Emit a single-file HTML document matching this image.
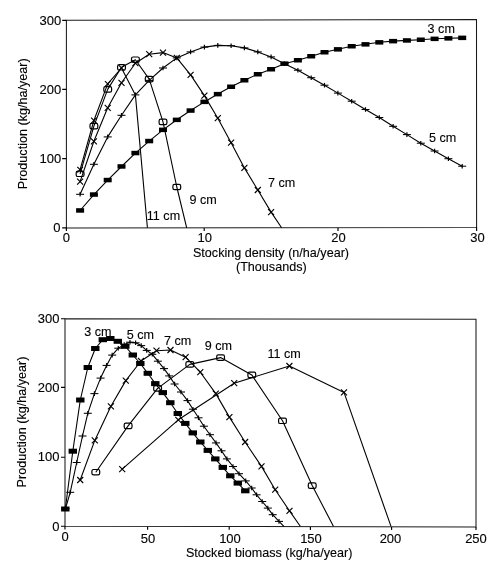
<!DOCTYPE html>
<html><head><meta charset="utf-8"><style>
html,body{margin:0;padding:0;background:#fff;width:500px;height:578px;overflow:hidden}
svg{position:absolute;left:0;top:0}
text{font-family:"Liberation Sans",sans-serif;font-size:12.6px;fill:#000;stroke:#000;stroke-width:0.12px}
.n{font-size:13px}
svg{will-change:transform}
</style></head><body>
<svg width="500" height="578" viewBox="0 0 500 578">
<!-- plot 1 frame -->
<path d="M66.4,20.3 L476.5,19.5 L476.6,227.5 L66.4,227.9 Z" fill="none" stroke="#1a1a1a" stroke-width="1.05"/>
<path d="M62.2,20.3H66.4 M62.2,89.4H66.4 M62.2,158.6H66.4 M62.2,227.9H66.4 M66.4,227.9V231 M204.2,227.9V231 M338,227.7V231 M476.6,227.5V231" stroke="#000" stroke-width="1.15"/>
<!-- plot 2 frame -->
<path d="M65,318.7 L476,319.2 L476,527 L65,526.2 Z" fill="none" stroke="#1a1a1a" stroke-width="1.05"/>
<path d="M61,318.7H65 M61,387.4H65 M61,457.2H65 M61,526.2H65 M65,526.2V529.5 M147.6,526.8V529.8 M229.2,526.8V529.8 M310.4,527V530 M391.6,527V530 M476,527V530" stroke="#000" stroke-width="1.15"/>
<g id="t1">
<text class="n" x="61.2" y="24.5" text-anchor="end">300</text>
<text class="n" x="61.2" y="93.7" text-anchor="end">200</text>
<text class="n" x="61.2" y="163" text-anchor="end">100</text>
<text class="n" x="60.5" y="232" text-anchor="end">0</text>
<text class="n" x="66.4" y="241.7" text-anchor="middle">0</text>
<text class="n" x="204.8" y="242.4" text-anchor="middle">10</text>
<text class="n" x="338.5" y="242.2" text-anchor="middle">20</text>
<text class="n" x="477.5" y="241.7" text-anchor="middle">30</text>
<text x="271" y="257.2" text-anchor="middle">Stocking density (n/ha/year)</text>
<text x="271.3" y="270.7" text-anchor="middle">(Thousands)</text>
<text transform="translate(27.2,123.8) rotate(-90)" text-anchor="middle">Production (kg/ha/year)</text>
<text x="427.6" y="32.9">3 cm</text>
<text x="429" y="142.2">5 cm</text>
<text x="268" y="187">7 cm</text>
<text x="189.4" y="204.2">9 cm</text>
<text x="146.8" y="220.2">11 cm</text>
</g>
<g id="t2">
<text class="n" x="59.5" y="322.7" text-anchor="end">300</text>
<text class="n" x="59.5" y="391.6" text-anchor="end">200</text>
<text class="n" x="59.5" y="461.4" text-anchor="end">100</text>
<text class="n" x="59.5" y="531.2" text-anchor="end">0</text>
<text class="n" x="65" y="541" text-anchor="middle">0</text>
<text class="n" x="148" y="542.6" text-anchor="middle">50</text>
<text class="n" x="230" y="542.6" text-anchor="middle">100</text>
<text class="n" x="311" y="542.6" text-anchor="middle">150</text>
<text class="n" x="390.5" y="542.6" text-anchor="middle">200</text>
<text class="n" x="476" y="542.6" text-anchor="middle">250</text>
<text x="269.2" y="556.6" text-anchor="middle">Stocked biomass (kg/ha/year)</text>
<text transform="translate(25.5,422) rotate(-90)" text-anchor="middle">Production (kg/ha/year)</text>
<text x="84.2" y="336.3">3 cm</text>
<text x="126.8" y="338.6">5 cm</text>
<text x="164" y="345.1">7 cm</text>
<text x="204.8" y="349.6">9 cm</text>
<text x="267.4" y="358">11 cm</text>
</g>
<path d="M80.1,210.5 L93.9,194.6 L107.7,180.1 L121.5,166.5 L135.4,153.1 L149.2,141.1 L163.0,129.9 L176.8,119.8 L190.6,110.5 L204.4,101.9 L217.8,94.1 L231.1,86.8 L244.4,80.2 L257.8,74.2 L271.1,69.3 L284.5,63.7 L297.9,60.3 L311.2,56.3 L324.5,52.3 L337.9,49.3 L351.7,46.3 L365.5,44.3 L379.3,42.3 L393.1,41.1 L406.9,40.4 L420.8,39.7 L434.6,38.8 L448.4,38.3 L462.2,37.9" fill="none" stroke="#000" stroke-width="1.1" stroke-linejoin="round"/>
<path d="M80.1,194.3 L93.9,164.3 L107.7,136.9 L121.5,115.3 L135.4,94.9 L149.2,80.4 L163.0,68.0 L176.8,57.9 L190.6,51.9 L204.4,47.1 L217.8,45.4 L231.1,45.7 L244.4,47.9 L257.8,51.9 L271.1,56.9 L284.5,63.7 L297.9,70.2 L311.2,77.7 L324.5,85.2 L337.9,93.1 L351.7,101.2 L365.5,109.5 L379.3,117.5 L393.1,126.3 L406.9,134.6 L420.8,143.2 L434.6,151.0 L448.4,158.7 L462.2,166.2" fill="none" stroke="#000" stroke-width="1.1" stroke-linejoin="round"/>
<path d="M80.1,181.6 L93.9,141.3 L107.7,107.8 L121.5,82.8 L135.4,63.2 L149.2,54.2 L163.0,52.6 L176.8,57.9 L190.6,74.9 L204.4,95.6 L217.8,118.2 L231.1,142.7 L244.4,167.9 L257.8,190.0 L271.1,212.1 L281.6,227.8" fill="none" stroke="#000" stroke-width="1.1" stroke-linejoin="round"/>
<path d="M80.1,173.8 L93.9,126.1 L107.7,89.4 L121.5,67.3 L135.4,59.7 L149.2,79.1 L163.0,121.9 L176.8,187.0 L186.7,227.8" fill="none" stroke="#000" stroke-width="1.1" stroke-linejoin="round"/>
<path d="M80.1,169.7 L93.9,120.5 L107.7,83.9 L121.5,68.0 L135.4,94.9 L147.4,227.8" fill="none" stroke="#000" stroke-width="1.1" stroke-linejoin="round"/>
<rect x="76.1" y="208.2" width="8" height="4.5" fill="#000"/>
<rect x="89.9" y="192.3" width="8" height="4.5" fill="#000"/>
<rect x="103.7" y="177.8" width="8" height="4.5" fill="#000"/>
<rect x="117.5" y="164.2" width="8" height="4.5" fill="#000"/>
<rect x="131.4" y="150.8" width="8" height="4.5" fill="#000"/>
<rect x="145.2" y="138.8" width="8" height="4.5" fill="#000"/>
<rect x="159.0" y="127.6" width="8" height="4.5" fill="#000"/>
<rect x="172.8" y="117.6" width="8" height="4.5" fill="#000"/>
<rect x="186.6" y="108.3" width="8" height="4.5" fill="#000"/>
<rect x="200.4" y="99.6" width="8" height="4.5" fill="#000"/>
<rect x="213.8" y="91.9" width="8" height="4.5" fill="#000"/>
<rect x="227.1" y="84.5" width="8" height="4.5" fill="#000"/>
<rect x="240.4" y="78.0" width="8" height="4.5" fill="#000"/>
<rect x="253.8" y="72.0" width="8" height="4.5" fill="#000"/>
<rect x="267.1" y="67.0" width="8" height="4.5" fill="#000"/>
<rect x="280.5" y="61.4" width="8" height="4.5" fill="#000"/>
<rect x="293.9" y="58.0" width="8" height="4.5" fill="#000"/>
<rect x="307.2" y="54.0" width="8" height="4.5" fill="#000"/>
<rect x="320.5" y="50.0" width="8" height="4.5" fill="#000"/>
<rect x="333.9" y="47.1" width="8" height="4.5" fill="#000"/>
<rect x="347.7" y="44.0" width="8" height="4.5" fill="#000"/>
<rect x="361.5" y="42.1" width="8" height="4.5" fill="#000"/>
<rect x="375.3" y="40.1" width="8" height="4.5" fill="#000"/>
<rect x="389.1" y="38.9" width="8" height="4.5" fill="#000"/>
<rect x="402.9" y="38.2" width="8" height="4.5" fill="#000"/>
<rect x="416.8" y="37.5" width="8" height="4.5" fill="#000"/>
<rect x="430.6" y="36.6" width="8" height="4.5" fill="#000"/>
<rect x="444.4" y="36.1" width="8" height="4.5" fill="#000"/>
<rect x="458.2" y="35.6" width="8" height="4.5" fill="#000"/>
<path d="M76.1,194.3H84.1" stroke="#000" stroke-width="1.05"/><path d="M80.1,192.0V196.6" stroke="#000" stroke-width="1.2"/>
<path d="M89.9,164.3H97.9" stroke="#000" stroke-width="1.05"/><path d="M93.9,162.0V166.6" stroke="#000" stroke-width="1.2"/>
<path d="M103.7,136.9H111.7" stroke="#000" stroke-width="1.05"/><path d="M107.7,134.6V139.2" stroke="#000" stroke-width="1.2"/>
<path d="M117.5,115.3H125.5" stroke="#000" stroke-width="1.05"/><path d="M121.5,113.0V117.6" stroke="#000" stroke-width="1.2"/>
<path d="M131.4,94.9H139.4" stroke="#000" stroke-width="1.05"/><path d="M135.4,92.6V97.2" stroke="#000" stroke-width="1.2"/>
<path d="M145.2,80.4H153.2" stroke="#000" stroke-width="1.05"/><path d="M149.2,78.1V82.7" stroke="#000" stroke-width="1.2"/>
<path d="M159.0,68.0H167.0" stroke="#000" stroke-width="1.05"/><path d="M163.0,65.7V70.3" stroke="#000" stroke-width="1.2"/>
<path d="M172.8,57.9H180.8" stroke="#000" stroke-width="1.05"/><path d="M176.8,55.6V60.2" stroke="#000" stroke-width="1.2"/>
<path d="M186.6,51.9H194.6" stroke="#000" stroke-width="1.05"/><path d="M190.6,49.6V54.2" stroke="#000" stroke-width="1.2"/>
<path d="M200.4,47.1H208.4" stroke="#000" stroke-width="1.05"/><path d="M204.4,44.8V49.4" stroke="#000" stroke-width="1.2"/>
<path d="M213.8,45.4H221.8" stroke="#000" stroke-width="1.05"/><path d="M217.8,43.1V47.7" stroke="#000" stroke-width="1.2"/>
<path d="M227.1,45.7H235.1" stroke="#000" stroke-width="1.05"/><path d="M231.1,43.4V48.0" stroke="#000" stroke-width="1.2"/>
<path d="M240.4,47.9H248.4" stroke="#000" stroke-width="1.05"/><path d="M244.4,45.6V50.2" stroke="#000" stroke-width="1.2"/>
<path d="M253.8,51.9H261.8" stroke="#000" stroke-width="1.05"/><path d="M257.8,49.6V54.2" stroke="#000" stroke-width="1.2"/>
<path d="M267.1,56.9H275.1" stroke="#000" stroke-width="1.05"/><path d="M271.1,54.6V59.2" stroke="#000" stroke-width="1.2"/>
<path d="M280.5,63.7H288.5" stroke="#000" stroke-width="1.05"/><path d="M284.5,61.4V66.0" stroke="#000" stroke-width="1.2"/>
<path d="M293.9,70.2H301.9" stroke="#000" stroke-width="1.05"/><path d="M297.9,67.9V72.5" stroke="#000" stroke-width="1.2"/>
<path d="M307.2,77.7H315.2" stroke="#000" stroke-width="1.05"/><path d="M311.2,75.4V80.0" stroke="#000" stroke-width="1.2"/>
<path d="M320.5,85.2H328.5" stroke="#000" stroke-width="1.05"/><path d="M324.5,82.9V87.5" stroke="#000" stroke-width="1.2"/>
<path d="M333.9,93.1H341.9" stroke="#000" stroke-width="1.05"/><path d="M337.9,90.8V95.4" stroke="#000" stroke-width="1.2"/>
<path d="M347.7,101.2H355.7" stroke="#000" stroke-width="1.05"/><path d="M351.7,98.9V103.5" stroke="#000" stroke-width="1.2"/>
<path d="M361.5,109.5H369.5" stroke="#000" stroke-width="1.05"/><path d="M365.5,107.2V111.8" stroke="#000" stroke-width="1.2"/>
<path d="M375.3,117.5H383.3" stroke="#000" stroke-width="1.05"/><path d="M379.3,115.2V119.8" stroke="#000" stroke-width="1.2"/>
<path d="M389.1,126.3H397.1" stroke="#000" stroke-width="1.05"/><path d="M393.1,124.0V128.6" stroke="#000" stroke-width="1.2"/>
<path d="M402.9,134.6H410.9" stroke="#000" stroke-width="1.05"/><path d="M406.9,132.3V136.9" stroke="#000" stroke-width="1.2"/>
<path d="M416.8,143.2H424.8" stroke="#000" stroke-width="1.05"/><path d="M420.8,140.9V145.5" stroke="#000" stroke-width="1.2"/>
<path d="M430.6,151.0H438.6" stroke="#000" stroke-width="1.05"/><path d="M434.6,148.7V153.3" stroke="#000" stroke-width="1.2"/>
<path d="M444.4,158.7H452.4" stroke="#000" stroke-width="1.05"/><path d="M448.4,156.4V161.0" stroke="#000" stroke-width="1.2"/>
<path d="M458.2,166.2H466.2" stroke="#000" stroke-width="1.05"/><path d="M462.2,163.9V168.5" stroke="#000" stroke-width="1.2"/>
<path d="M77.1,178.6L83.1,184.6M77.1,184.6L83.1,178.6" stroke="#000" stroke-width="1.15"/>
<path d="M90.9,138.3L96.9,144.3M90.9,144.3L96.9,138.3" stroke="#000" stroke-width="1.15"/>
<path d="M104.7,104.8L110.7,110.8M104.7,110.8L110.7,104.8" stroke="#000" stroke-width="1.15"/>
<path d="M118.5,79.8L124.5,85.8M118.5,85.8L124.5,79.8" stroke="#000" stroke-width="1.15"/>
<path d="M132.4,60.2L138.4,66.2M132.4,66.2L138.4,60.2" stroke="#000" stroke-width="1.15"/>
<path d="M146.2,51.2L152.2,57.2M146.2,57.2L152.2,51.2" stroke="#000" stroke-width="1.15"/>
<path d="M160.0,49.6L166.0,55.6M160.0,55.6L166.0,49.6" stroke="#000" stroke-width="1.15"/>
<path d="M173.8,54.9L179.8,60.9M173.8,60.9L179.8,54.9" stroke="#000" stroke-width="1.15"/>
<path d="M187.6,71.9L193.6,77.9M187.6,77.9L193.6,71.9" stroke="#000" stroke-width="1.15"/>
<path d="M201.4,92.6L207.4,98.6M201.4,98.6L207.4,92.6" stroke="#000" stroke-width="1.15"/>
<path d="M214.8,115.2L220.8,121.2M214.8,121.2L220.8,115.2" stroke="#000" stroke-width="1.15"/>
<path d="M228.1,139.7L234.1,145.7M228.1,145.7L234.1,139.7" stroke="#000" stroke-width="1.15"/>
<path d="M241.4,164.9L247.4,170.9M241.4,170.9L247.4,164.9" stroke="#000" stroke-width="1.15"/>
<path d="M254.8,187.0L260.8,193.0M254.8,193.0L260.8,187.0" stroke="#000" stroke-width="1.15"/>
<path d="M268.1,209.1L274.1,215.1M268.1,215.1L274.1,209.1" stroke="#000" stroke-width="1.15"/>
<rect x="76.2" y="171.1" width="7.8" height="5.4" rx="1.6" fill="none" stroke="#000" stroke-width="1.2"/>
<rect x="90.0" y="123.4" width="7.8" height="5.4" rx="1.6" fill="none" stroke="#000" stroke-width="1.2"/>
<rect x="103.8" y="86.7" width="7.8" height="5.4" rx="1.6" fill="none" stroke="#000" stroke-width="1.2"/>
<rect x="117.6" y="64.6" width="7.8" height="5.4" rx="1.6" fill="none" stroke="#000" stroke-width="1.2"/>
<rect x="131.5" y="57.0" width="7.8" height="5.4" rx="1.6" fill="none" stroke="#000" stroke-width="1.2"/>
<rect x="145.3" y="76.4" width="7.8" height="5.4" rx="1.6" fill="none" stroke="#000" stroke-width="1.2"/>
<rect x="159.1" y="119.2" width="7.8" height="5.4" rx="1.6" fill="none" stroke="#000" stroke-width="1.2"/>
<rect x="172.9" y="184.3" width="7.8" height="5.4" rx="1.6" fill="none" stroke="#000" stroke-width="1.2"/>
<path d="M77.3,166.9L82.9,172.5M77.3,172.5L82.9,166.9" stroke="#000" stroke-width="1.15"/>
<path d="M91.1,117.7L96.7,123.3M91.1,123.3L96.7,117.7" stroke="#000" stroke-width="1.15"/>
<path d="M104.9,81.1L110.5,86.7M104.9,86.7L110.5,81.1" stroke="#000" stroke-width="1.15"/>
<path d="M118.7,65.2L124.3,70.8M118.7,70.8L124.3,65.2" stroke="#000" stroke-width="1.15"/>
<path d="M65.3,509.0 L72.8,451.2 L80.3,400.0 L87.8,367.5 L95.3,348.5 L102.8,339.7 L110.3,338.5 L117.8,341.3 L125.3,346.3 L132.8,355.0 L140.3,363.5 L147.8,373.3 L155.3,383.6 L162.8,392.6 L170.3,402.7 L177.8,413.5 L185.3,423.4 L192.8,432.9 L200.3,442.0 L207.8,450.4 L215.3,458.9 L222.8,467.4 L230.3,475.8 L237.8,483.1 L245.3,490.8" fill="none" stroke="#000" stroke-width="1.1" stroke-linejoin="round"/>
<path d="M65.5,508.6 L70.2,492.3 L76.7,462.5 L82.5,436.0 L87.8,413.3 L94.4,393.6 L100.6,378.1 L106.6,365.4 L112.2,355.1 L118.3,348.2 L124.2,344.6 L130.0,342.2 L135.6,342.8 L141.2,345.6 L146.7,350.4 L152.3,354.3 L157.9,361.2 L164.0,368.6 L169.2,375.9 L174.6,384.0 L181.0,392.0 L187.5,400.6 L193.0,409.2 L198.5,417.8 L203.9,426.2 L210.0,434.7 L216.0,442.9 L221.5,450.8 L226.9,458.9 L233.0,466.5 L239.0,473.7 L245.7,480.9 L251.7,488.0 L256.6,494.8 L262.2,501.5 L267.8,508.1 L272.7,514.7 L279.0,521.4 L283.9,526.3" fill="none" stroke="#000" stroke-width="1.1" stroke-linejoin="round"/>
<path d="M80.2,480.0 L94.8,440.4 L110.9,406.3 L125.8,380.6 L141.0,361.0 L156.5,350.7 L170.5,350.0 L185.6,357.2 L200.3,372.2 L215.8,393.6 L229.4,417.1 L245.1,442.0 L261.5,466.4 L275.2,489.7 L289.5,510.9 L300.3,526.2" fill="none" stroke="#000" stroke-width="1.1" stroke-linejoin="round"/>
<path d="M95.8,472.2 L128.1,425.9 L157.6,388.4 L189.8,364.4 L220.6,357.6 L251.8,374.9 L282.5,420.8 L312.2,485.6 L333.4,526.2" fill="none" stroke="#000" stroke-width="1.1" stroke-linejoin="round"/>
<path d="M122.2,469.2 L178.3,419.8 L234.2,383.2 L289.4,366.0 L344.0,392.4 L391.0,526.4" fill="none" stroke="#000" stroke-width="1.1" stroke-linejoin="round"/>
<rect x="61.1" y="506.5" width="8.4" height="5" fill="#000"/>
<rect x="68.6" y="448.7" width="8.4" height="5" fill="#000"/>
<rect x="76.1" y="397.5" width="8.4" height="5" fill="#000"/>
<rect x="83.6" y="365.0" width="8.4" height="5" fill="#000"/>
<rect x="91.1" y="346.0" width="8.4" height="5" fill="#000"/>
<rect x="98.6" y="337.2" width="8.4" height="5" fill="#000"/>
<rect x="106.1" y="336.0" width="8.4" height="5" fill="#000"/>
<rect x="113.6" y="338.8" width="8.4" height="5" fill="#000"/>
<rect x="121.1" y="343.8" width="8.4" height="5" fill="#000"/>
<rect x="128.6" y="352.5" width="8.4" height="5" fill="#000"/>
<rect x="136.1" y="361.0" width="8.4" height="5" fill="#000"/>
<rect x="143.6" y="370.8" width="8.4" height="5" fill="#000"/>
<rect x="151.1" y="381.1" width="8.4" height="5" fill="#000"/>
<rect x="158.6" y="390.1" width="8.4" height="5" fill="#000"/>
<rect x="166.1" y="400.2" width="8.4" height="5" fill="#000"/>
<rect x="173.6" y="411.0" width="8.4" height="5" fill="#000"/>
<rect x="181.1" y="420.9" width="8.4" height="5" fill="#000"/>
<rect x="188.6" y="430.4" width="8.4" height="5" fill="#000"/>
<rect x="196.1" y="439.5" width="8.4" height="5" fill="#000"/>
<rect x="203.6" y="447.9" width="8.4" height="5" fill="#000"/>
<rect x="211.1" y="456.4" width="8.4" height="5" fill="#000"/>
<rect x="218.6" y="464.9" width="8.4" height="5" fill="#000"/>
<rect x="226.1" y="473.3" width="8.4" height="5" fill="#000"/>
<rect x="233.6" y="480.6" width="8.4" height="5" fill="#000"/>
<rect x="241.1" y="488.3" width="8.4" height="5" fill="#000"/>
<path d="M61.5,508.6H69.5" stroke="#000" stroke-width="1.05"/><path d="M65.5,506.3V510.9" stroke="#000" stroke-width="1.2"/>
<path d="M66.2,492.3H74.2" stroke="#000" stroke-width="1.05"/><path d="M70.2,490.0V494.6" stroke="#000" stroke-width="1.2"/>
<path d="M72.7,462.5H80.7" stroke="#000" stroke-width="1.05"/><path d="M76.7,460.2V464.8" stroke="#000" stroke-width="1.2"/>
<path d="M78.5,436.0H86.5" stroke="#000" stroke-width="1.05"/><path d="M82.5,433.7V438.3" stroke="#000" stroke-width="1.2"/>
<path d="M83.8,413.3H91.8" stroke="#000" stroke-width="1.05"/><path d="M87.8,411.0V415.6" stroke="#000" stroke-width="1.2"/>
<path d="M90.4,393.6H98.4" stroke="#000" stroke-width="1.05"/><path d="M94.4,391.3V395.9" stroke="#000" stroke-width="1.2"/>
<path d="M96.6,378.1H104.6" stroke="#000" stroke-width="1.05"/><path d="M100.6,375.8V380.4" stroke="#000" stroke-width="1.2"/>
<path d="M102.6,365.4H110.6" stroke="#000" stroke-width="1.05"/><path d="M106.6,363.1V367.7" stroke="#000" stroke-width="1.2"/>
<path d="M108.2,355.1H116.2" stroke="#000" stroke-width="1.05"/><path d="M112.2,352.8V357.4" stroke="#000" stroke-width="1.2"/>
<path d="M114.3,348.2H122.3" stroke="#000" stroke-width="1.05"/><path d="M118.3,345.9V350.5" stroke="#000" stroke-width="1.2"/>
<path d="M120.2,344.6H128.2" stroke="#000" stroke-width="1.05"/><path d="M124.2,342.3V346.9" stroke="#000" stroke-width="1.2"/>
<path d="M126.0,342.2H134.0" stroke="#000" stroke-width="1.05"/><path d="M130.0,339.9V344.5" stroke="#000" stroke-width="1.2"/>
<path d="M131.6,342.8H139.6" stroke="#000" stroke-width="1.05"/><path d="M135.6,340.5V345.1" stroke="#000" stroke-width="1.2"/>
<path d="M137.2,345.6H145.2" stroke="#000" stroke-width="1.05"/><path d="M141.2,343.3V347.9" stroke="#000" stroke-width="1.2"/>
<path d="M142.7,350.4H150.7" stroke="#000" stroke-width="1.05"/><path d="M146.7,348.1V352.7" stroke="#000" stroke-width="1.2"/>
<path d="M148.3,354.3H156.3" stroke="#000" stroke-width="1.05"/><path d="M152.3,352.0V356.6" stroke="#000" stroke-width="1.2"/>
<path d="M153.9,361.2H161.9" stroke="#000" stroke-width="1.05"/><path d="M157.9,358.9V363.5" stroke="#000" stroke-width="1.2"/>
<path d="M160.0,368.6H168.0" stroke="#000" stroke-width="1.05"/><path d="M164.0,366.3V370.9" stroke="#000" stroke-width="1.2"/>
<path d="M165.2,375.9H173.2" stroke="#000" stroke-width="1.05"/><path d="M169.2,373.6V378.2" stroke="#000" stroke-width="1.2"/>
<path d="M170.6,384.0H178.6" stroke="#000" stroke-width="1.05"/><path d="M174.6,381.7V386.3" stroke="#000" stroke-width="1.2"/>
<path d="M177.0,392.0H185.0" stroke="#000" stroke-width="1.05"/><path d="M181.0,389.7V394.3" stroke="#000" stroke-width="1.2"/>
<path d="M183.5,400.6H191.5" stroke="#000" stroke-width="1.05"/><path d="M187.5,398.3V402.9" stroke="#000" stroke-width="1.2"/>
<path d="M189.0,409.2H197.0" stroke="#000" stroke-width="1.05"/><path d="M193.0,406.9V411.5" stroke="#000" stroke-width="1.2"/>
<path d="M194.5,417.8H202.5" stroke="#000" stroke-width="1.05"/><path d="M198.5,415.5V420.1" stroke="#000" stroke-width="1.2"/>
<path d="M199.9,426.2H207.9" stroke="#000" stroke-width="1.05"/><path d="M203.9,423.9V428.5" stroke="#000" stroke-width="1.2"/>
<path d="M206.0,434.7H214.0" stroke="#000" stroke-width="1.05"/><path d="M210.0,432.4V437.0" stroke="#000" stroke-width="1.2"/>
<path d="M212.0,442.9H220.0" stroke="#000" stroke-width="1.05"/><path d="M216.0,440.6V445.2" stroke="#000" stroke-width="1.2"/>
<path d="M217.5,450.8H225.5" stroke="#000" stroke-width="1.05"/><path d="M221.5,448.5V453.1" stroke="#000" stroke-width="1.2"/>
<path d="M222.9,458.9H230.9" stroke="#000" stroke-width="1.05"/><path d="M226.9,456.6V461.2" stroke="#000" stroke-width="1.2"/>
<path d="M229.0,466.5H237.0" stroke="#000" stroke-width="1.05"/><path d="M233.0,464.2V468.8" stroke="#000" stroke-width="1.2"/>
<path d="M235.0,473.7H243.0" stroke="#000" stroke-width="1.05"/><path d="M239.0,471.4V476.0" stroke="#000" stroke-width="1.2"/>
<path d="M241.7,480.9H249.7" stroke="#000" stroke-width="1.05"/><path d="M245.7,478.6V483.2" stroke="#000" stroke-width="1.2"/>
<path d="M247.7,488.0H255.7" stroke="#000" stroke-width="1.05"/><path d="M251.7,485.7V490.3" stroke="#000" stroke-width="1.2"/>
<path d="M252.6,494.8H260.6" stroke="#000" stroke-width="1.05"/><path d="M256.6,492.5V497.1" stroke="#000" stroke-width="1.2"/>
<path d="M258.2,501.5H266.2" stroke="#000" stroke-width="1.05"/><path d="M262.2,499.2V503.8" stroke="#000" stroke-width="1.2"/>
<path d="M263.8,508.1H271.8" stroke="#000" stroke-width="1.05"/><path d="M267.8,505.8V510.4" stroke="#000" stroke-width="1.2"/>
<path d="M268.7,514.7H276.7" stroke="#000" stroke-width="1.05"/><path d="M272.7,512.4V517.0" stroke="#000" stroke-width="1.2"/>
<path d="M275.0,521.4H283.0" stroke="#000" stroke-width="1.05"/><path d="M279.0,519.1V523.7" stroke="#000" stroke-width="1.2"/>
<path d="M77.2,477.0L83.2,483.0M77.2,483.0L83.2,477.0" stroke="#000" stroke-width="1.15"/>
<path d="M91.8,437.4L97.8,443.4M91.8,443.4L97.8,437.4" stroke="#000" stroke-width="1.15"/>
<path d="M107.9,403.3L113.9,409.3M107.9,409.3L113.9,403.3" stroke="#000" stroke-width="1.15"/>
<path d="M122.8,377.6L128.8,383.6M122.8,383.6L128.8,377.6" stroke="#000" stroke-width="1.15"/>
<path d="M138.0,358.0L144.0,364.0M138.0,364.0L144.0,358.0" stroke="#000" stroke-width="1.15"/>
<path d="M153.5,347.7L159.5,353.7M153.5,353.7L159.5,347.7" stroke="#000" stroke-width="1.15"/>
<path d="M167.5,347.0L173.5,353.0M167.5,353.0L173.5,347.0" stroke="#000" stroke-width="1.15"/>
<path d="M182.6,354.2L188.6,360.2M182.6,360.2L188.6,354.2" stroke="#000" stroke-width="1.15"/>
<path d="M197.3,369.2L203.3,375.2M197.3,375.2L203.3,369.2" stroke="#000" stroke-width="1.15"/>
<path d="M212.8,390.6L218.8,396.6M212.8,396.6L218.8,390.6" stroke="#000" stroke-width="1.15"/>
<path d="M226.4,414.1L232.4,420.1M226.4,420.1L232.4,414.1" stroke="#000" stroke-width="1.15"/>
<path d="M242.1,439.0L248.1,445.0M242.1,445.0L248.1,439.0" stroke="#000" stroke-width="1.15"/>
<path d="M258.5,463.4L264.5,469.4M258.5,469.4L264.5,463.4" stroke="#000" stroke-width="1.15"/>
<path d="M272.2,486.7L278.2,492.7M272.2,492.7L278.2,486.7" stroke="#000" stroke-width="1.15"/>
<path d="M286.5,507.9L292.5,513.9M286.5,513.9L292.5,507.9" stroke="#000" stroke-width="1.15"/>
<rect x="91.9" y="469.5" width="7.8" height="5.4" rx="1.6" fill="none" stroke="#000" stroke-width="1.2"/>
<rect x="124.2" y="423.2" width="7.8" height="5.4" rx="1.6" fill="none" stroke="#000" stroke-width="1.2"/>
<rect x="153.7" y="385.7" width="7.8" height="5.4" rx="1.6" fill="none" stroke="#000" stroke-width="1.2"/>
<rect x="185.9" y="361.7" width="7.8" height="5.4" rx="1.6" fill="none" stroke="#000" stroke-width="1.2"/>
<rect x="216.7" y="354.9" width="7.8" height="5.4" rx="1.6" fill="none" stroke="#000" stroke-width="1.2"/>
<rect x="247.9" y="372.2" width="7.8" height="5.4" rx="1.6" fill="none" stroke="#000" stroke-width="1.2"/>
<rect x="278.6" y="418.1" width="7.8" height="5.4" rx="1.6" fill="none" stroke="#000" stroke-width="1.2"/>
<rect x="308.3" y="482.9" width="7.8" height="5.4" rx="1.6" fill="none" stroke="#000" stroke-width="1.2"/>
<path d="M119.2,466.2L125.2,472.2M119.2,472.2L125.2,466.2" stroke="#000" stroke-width="1.15"/>
<path d="M175.3,416.8L181.3,422.8M175.3,422.8L181.3,416.8" stroke="#000" stroke-width="1.15"/>
<path d="M231.2,380.2L237.2,386.2M231.2,386.2L237.2,380.2" stroke="#000" stroke-width="1.15"/>
<path d="M286.4,363.0L292.4,369.0M286.4,369.0L292.4,363.0" stroke="#000" stroke-width="1.15"/>
<path d="M341.0,389.4L347.0,395.4M341.0,395.4L347.0,389.4" stroke="#000" stroke-width="1.15"/>
</svg>
</body></html>
